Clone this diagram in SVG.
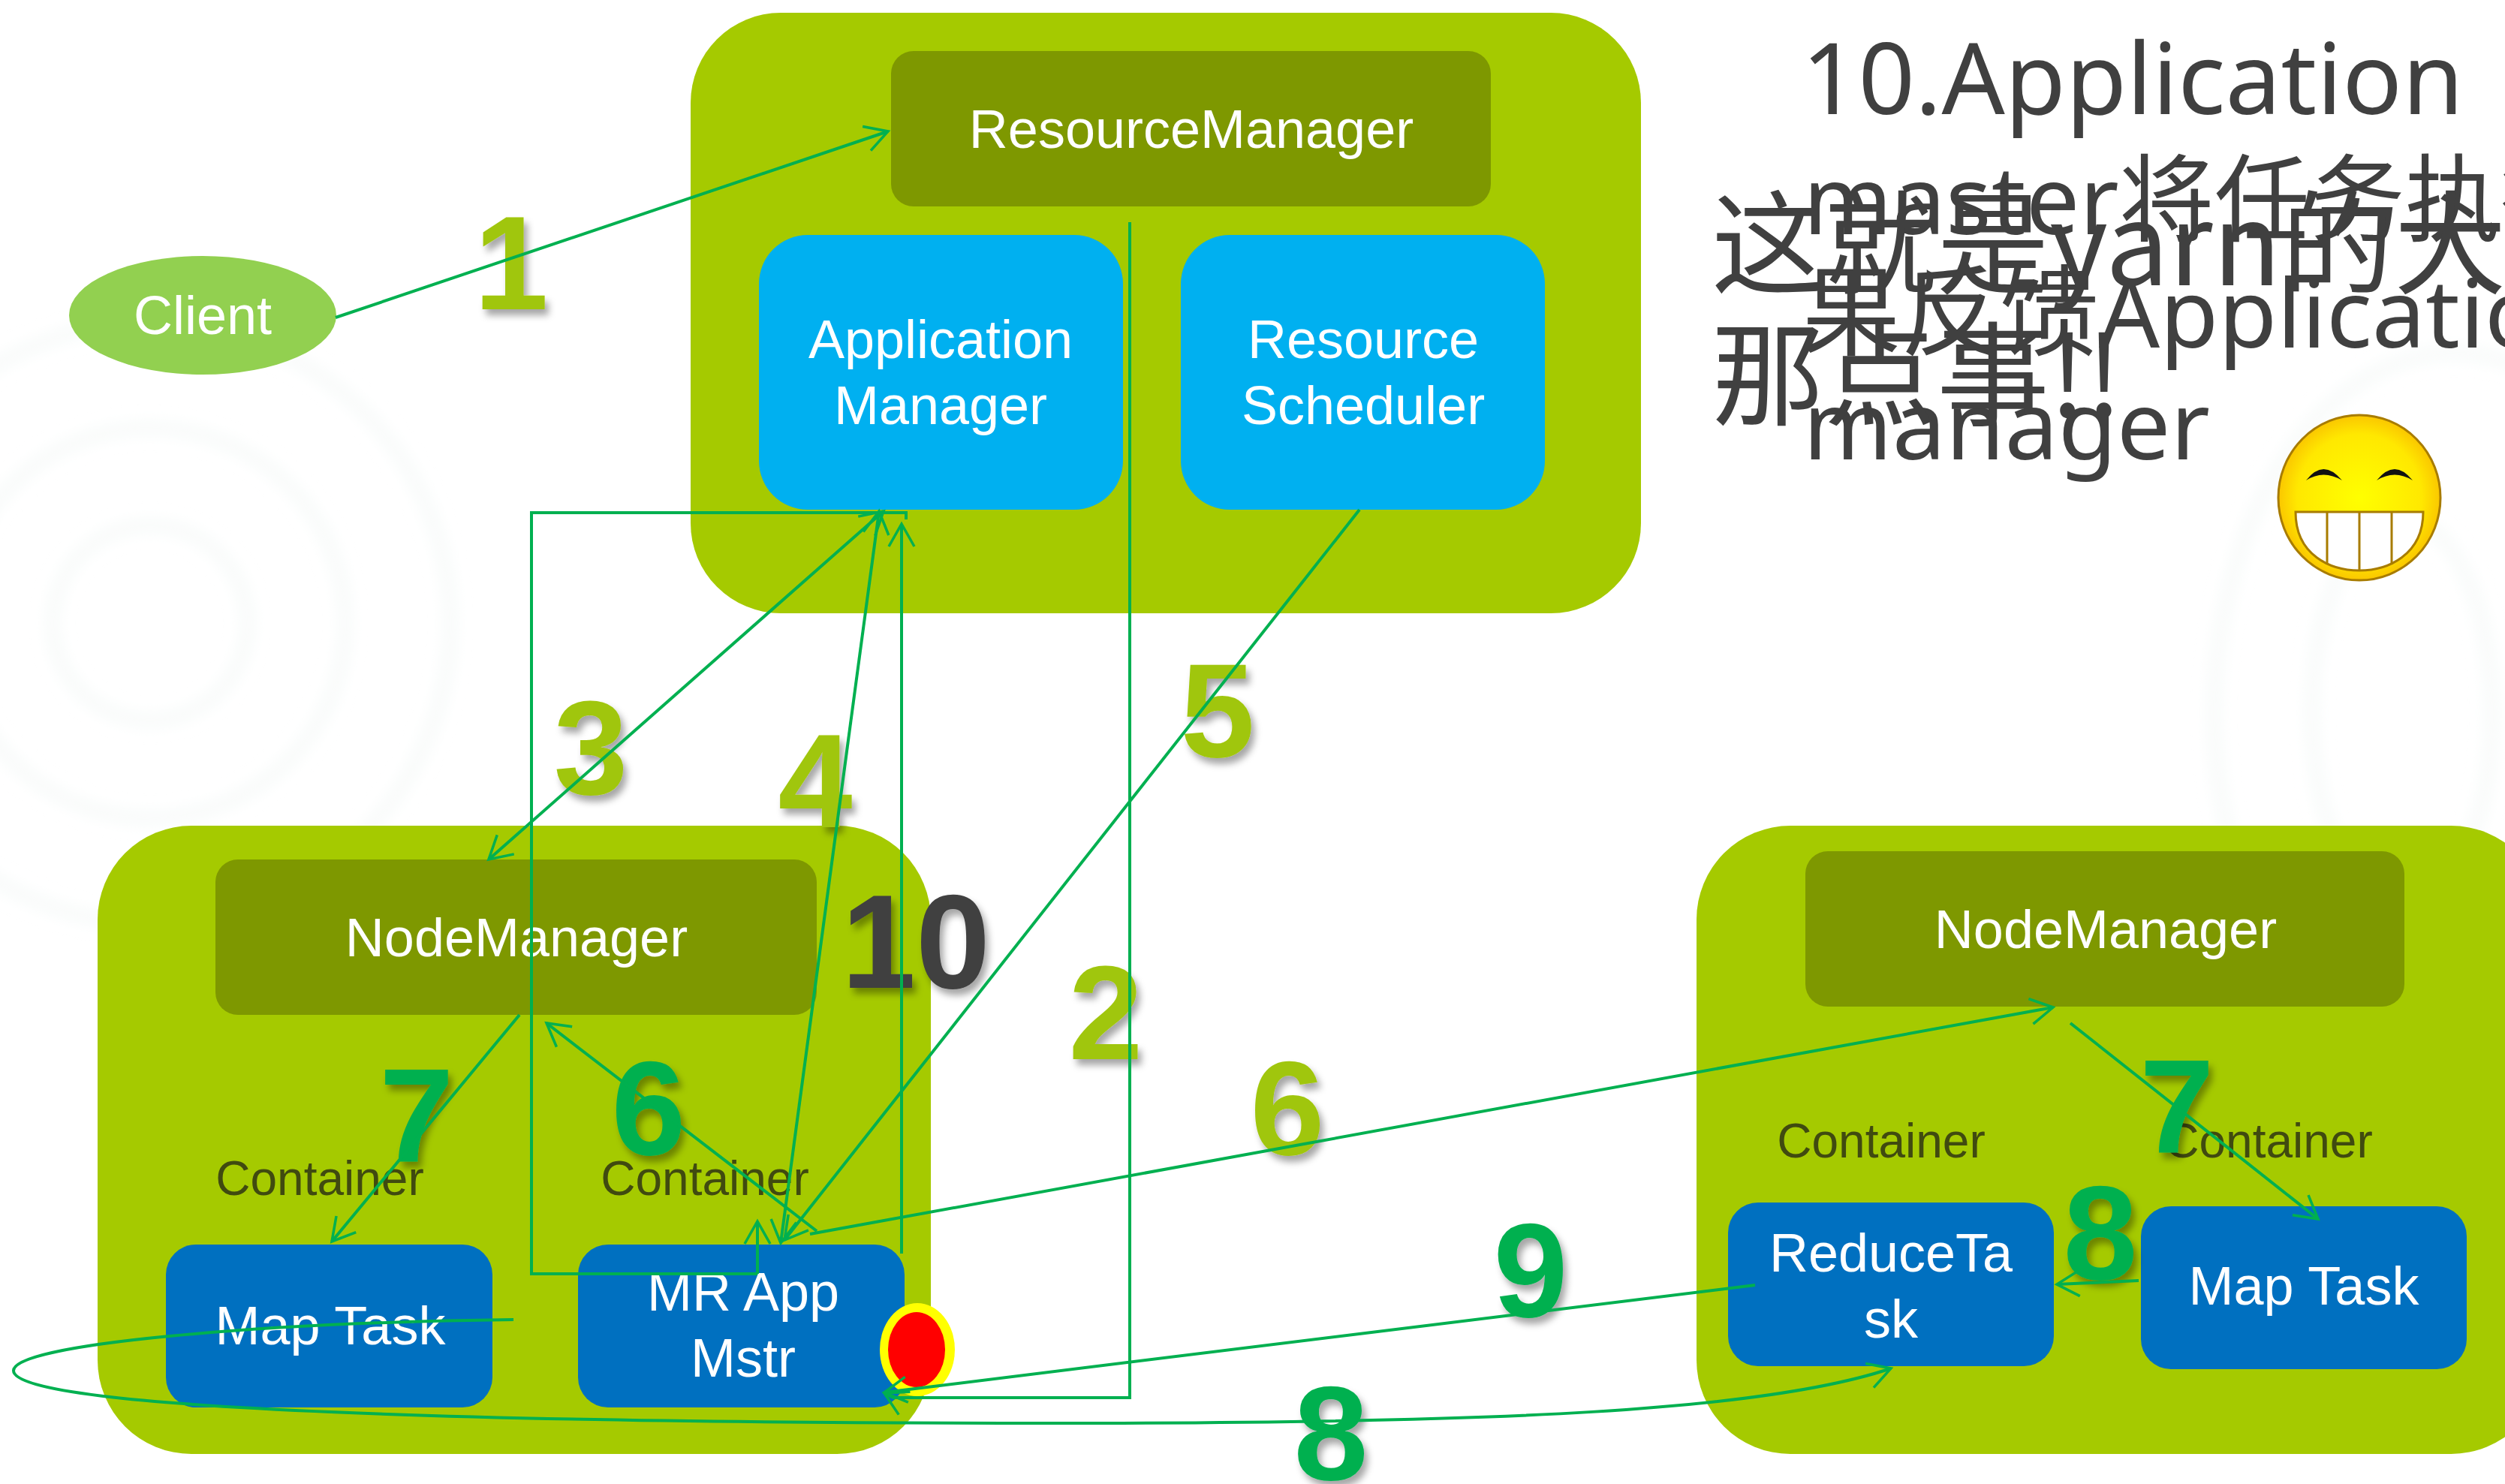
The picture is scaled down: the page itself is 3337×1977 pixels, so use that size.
<svg xmlns="http://www.w3.org/2000/svg" width="3337" height="1977" viewBox="0 0 3337 1977">
<style>
.big{fill:#a5ca00}.dk{fill:#7e9800}.lb{fill:#00b0f0}.bl{fill:#0070c0}
text{font-family:"Liberation Sans",Arial,sans-serif}
.t{fill:#fff;font-size:72px;text-anchor:middle}
.c{fill:#404a10;font-size:64px;text-anchor:middle}
.n{font-size:178px;font-weight:700;text-anchor:middle;filter:url(#sh)}
.g1{fill:#a0c60a}.g2{fill:#00b050}.g3{fill:#404040}
.h{font-family:"Noto Sans","Noto Sans CJK SC",sans-serif;font-size:132px;fill:#404040}
.s{font-size:127px}
.h2{font-family:"Noto Sans CJK SC","Noto Sans",sans-serif;font-size:150px;fill:#404040}
.l{fill:none;stroke:#00b050;stroke-width:4}
.a{marker-end:url(#ar)}.b{marker-start:url(#as);marker-end:url(#ar)}
</style>
<defs>
<filter id="sh" x="-20%" y="-20%" width="150%" height="150%"><feDropShadow dx="5" dy="8" stdDeviation="5" flood-color="#000" flood-opacity=".35"/></filter>
<filter id="bl"><feGaussianBlur stdDeviation="10"/></filter>
<marker id="ar" viewBox="-32 -20 36 40" refX="0" refY="0" markerWidth="36" markerHeight="40" markerUnits="userSpaceOnUse" orient="auto"><path d="M-30,-17L0,0L-30,17" fill="none" stroke="#00b050" stroke-width="3.5"/></marker>
<marker id="as" viewBox="-32 -20 36 40" refX="0" refY="0" markerWidth="36" markerHeight="40" markerUnits="userSpaceOnUse" orient="auto-start-reverse"><path d="M-30,-17L0,0L-30,17" fill="none" stroke="#00b050" stroke-width="3.5"/></marker>
<radialGradient id="fc" cx=".5" cy=".5" r=".55"><stop offset="0" stop-color="#ffff00"/><stop offset=".7" stop-color="#ffe800"/><stop offset="1" stop-color="#f8b800"/></radialGradient>
</defs>
<rect width="3337" height="1977" fill="#fff"/>
<g id="bg" fill="none" stroke="#f7faf9" stroke-width="16" filter="url(#bl)">
<circle cx="200" cy="830" r="130"/><circle cx="200" cy="830" r="260"/><circle cx="200" cy="830" r="400"/>
<ellipse cx="3200" cy="950" rx="120" ry="260"/><ellipse cx="3270" cy="950" rx="320" ry="480"/>
</g>
<g id="resource-group"><rect class="big" x="920" y="17" width="1266" height="800" rx="120"/></g>
<g id="resource-manager"><rect class="dk" x="1187" y="68" width="799" height="207" rx="30"/><text class="t" x="1587" y="197">ResourceManager</text></g>
<g id="application-manager"><rect class="lb" x="1011" y="313" width="485" height="366" rx="65"/><text class="t" x="1253" y="477">Application</text><text class="t" x="1253" y="565">Manager</text></g>
<g id="resource-scheduler"><rect class="lb" x="1573" y="313" width="485" height="366" rx="65"/><text class="t" x="1816" y="477">Resource</text><text class="t" x="1816" y="565">Scheduler</text></g>
<g id="client"><ellipse cx="270" cy="420" rx="178" ry="79" fill="#92d050"/><text class="t" x="270" y="445">Client</text></g>
<g id="node-left"><rect class="big" x="130" y="1100" width="1110" height="837" rx="125"/></g>
<g id="nm-left"><rect class="dk" x="287" y="1145" width="801" height="207" rx="30"/><text class="t" x="688" y="1274">NodeManager</text></g>
<text class="c" x="426" y="1592">Container</text>
<text class="c" x="939" y="1592">Container</text>
<g id="map-left"><rect class="bl" x="221" y="1658" width="435" height="217" rx="40"/><text class="t" x="440" y="1791">Map Task</text></g>
<g id="mr-app"><rect class="bl" x="770" y="1658" width="435" height="217" rx="40"/><text class="t" x="990" y="1746">MR App</text><text class="t" x="990" y="1834">Mstr</text></g>
<g id="node-right"><rect class="big" x="2260" y="1100" width="1130" height="837" rx="125"/></g>
<g id="nm-right"><rect class="dk" x="2405" y="1134" width="798" height="207" rx="30"/><text class="t" x="2805" y="1263">NodeManager</text></g>
<text class="c" x="2506" y="1542">Container</text>
<text class="c" x="3022" y="1542">Container</text>
<g id="reduce"><rect class="bl" x="2302" y="1602" width="434" height="218" rx="40"/><text class="t" x="2519" y="1694">ReduceTa</text><text class="t" x="2519" y="1782">sk</text></g>
<g id="map-right"><rect class="bl" x="2852" y="1607" width="434" height="217" rx="40"/><text class="t" x="3069" y="1738">Map Task</text></g>
<g id="marker-red"><ellipse cx="1222" cy="1798" rx="50" ry="62" fill="#ffff00"/><ellipse cx="1221" cy="1798" rx="38" ry="50" fill="#f00"/></g>
<g id="numbers">
<text class="n g1" x="681" y="412">1</text>
<text class="n g1" x="787" y="1058">3</text>
<text class="n g1" x="1086" y="1102">4</text>
<text class="n g1" x="1622" y="1008">5</text>
<text class="n g1" x="1473" y="1411">2</text>
<text class="n g1" x="1715" y="1538">6</text>
<text class="n g2" x="864" y="1538">6</text>
<text class="n g2" x="555" y="1548">7</text>
<text class="n g3" x="1220" y="1316">10</text>
<text class="n g2" x="2900" y="1536">7</text>
<text class="n g2" x="2798" y="1704">8</text>
<text class="n g2" x="2039" y="1754">9</text>
<text class="n g2" x="1773" y="1971">8</text>
</g>
<g id="connectors">
<path class="l a" d="M447,423L1183,175"/>
<path class="l a" d="M1505,296V1862H1190L1178,1856"/>
<path class="l b" d="M1177,681L651,1145"/>
<path class="l b" d="M1040,1656L1171,681"/>
<path class="l a" d="M1811,679L1045,1652"/>
<path class="l" d="M1009,1697H708V683H1207V692"/>
<path class="l a" d="M1009,1697V1627"/>
<path class="l a" d="M1201,1670V698"/>
<path class="l a" d="M1088,1640L728,1363"/>
<path class="l a" d="M1079,1644L2735,1342"/>
<path class="l a" d="M692,1352L442,1654"/>
<path class="l a" d="M2758,1363L3088,1624"/>
<path class="l a" d="M2849,1706L2740,1711"/>
<path class="l a" d="M684,1758C350,1762 18,1790 18,1826C18,1880 700,1896 1400,1896C2000,1896 2350,1880 2519,1823"/>
<path class="l a" d="M2338,1712L1178,1855"/>
</g>
<g id="caption">
<text class="h" x="2400" y="152">10.Application</text>
<text class="h s" x="2402" y="312">master将任务执行结</text>
<text class="h" x="2400" y="463">果反馈<tspan class="s">Application</tspan></text>
<text class="h s" x="2402" y="612">manager</text>
<text class="h2" x="2280" y="380">这就是yarn的大致</text>
<text class="h2" x="2280" y="555">那点事!!</text>
</g>
<g id="smiley">
<ellipse cx="3143" cy="663" rx="108" ry="110" fill="url(#fc)" stroke="#a87c00" stroke-width="3"/>
<path d="M3072,640Q3095,610 3120,640Q3095,625 3072,640ZM3166,640Q3190,610 3214,640Q3190,625 3166,640Z" fill="#111"/>
<path d="M3058,682H3228C3228,740 3180,760 3143,760C3105,760 3058,740 3058,682Z" fill="#fff" stroke="#a87c00" stroke-width="3"/>
<path d="M3100,682V752M3143,682V760M3186,682V752" stroke="#a87c00" stroke-width="3" fill="none"/>
</g>
</svg>
